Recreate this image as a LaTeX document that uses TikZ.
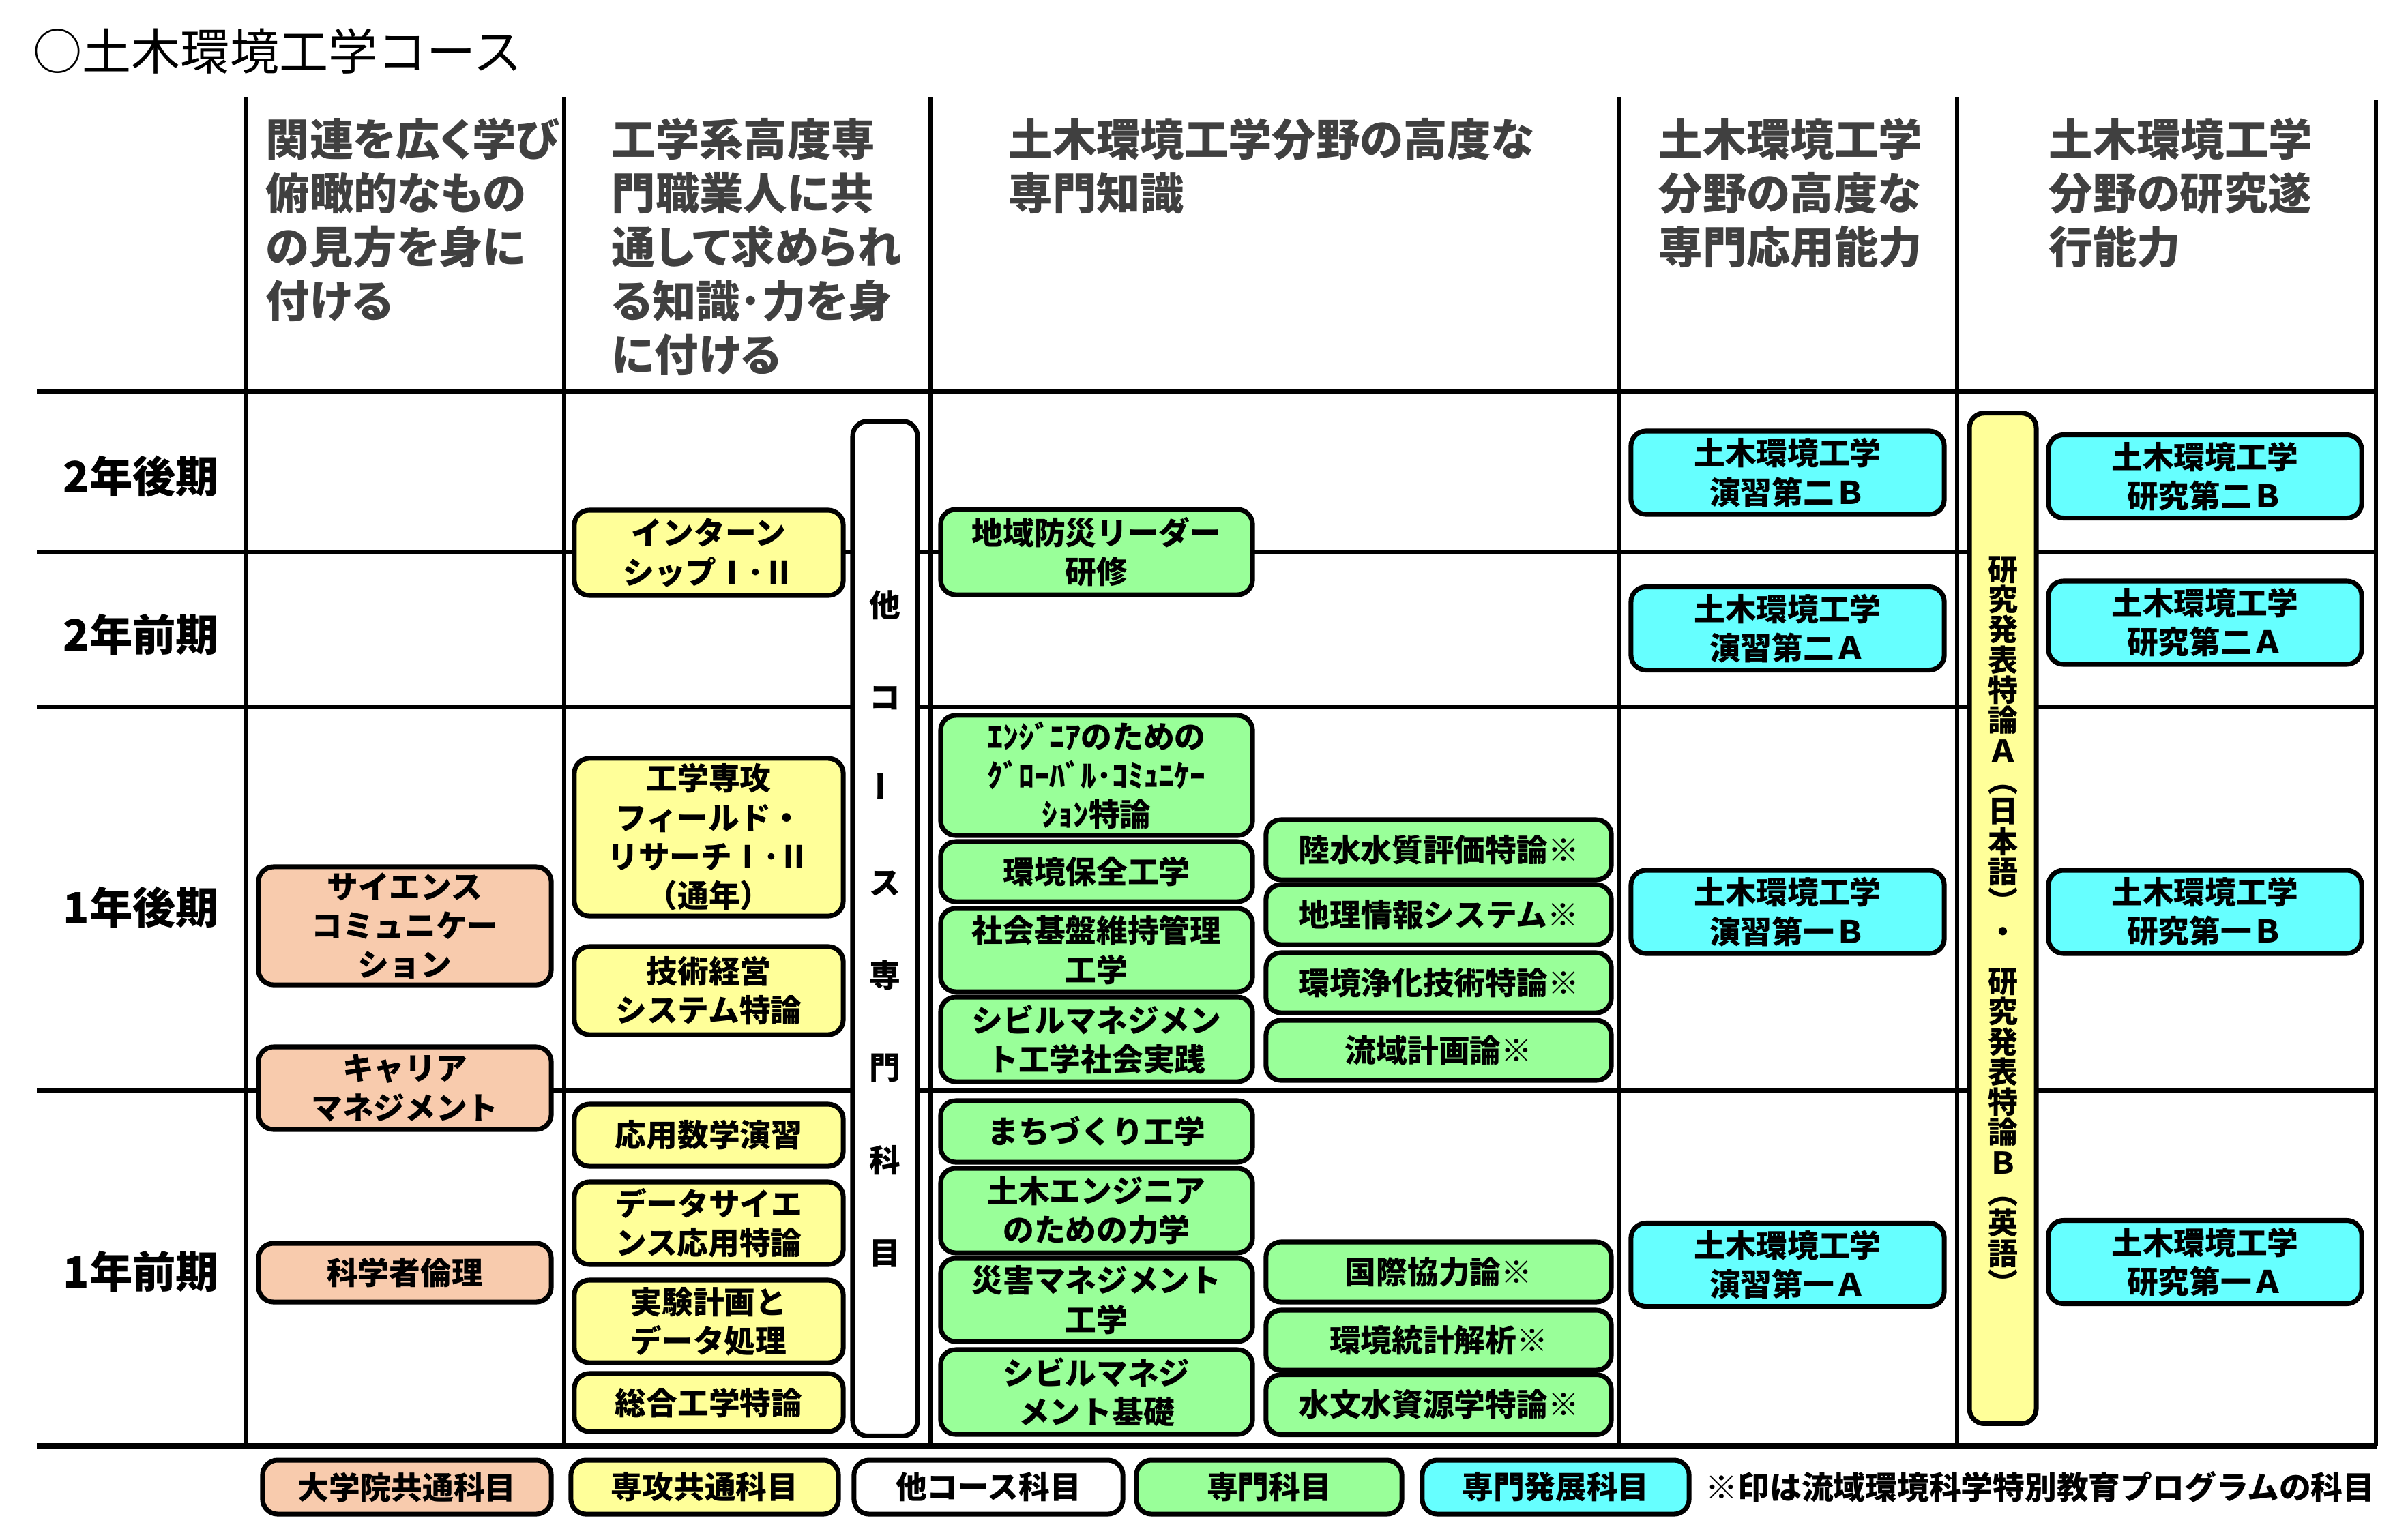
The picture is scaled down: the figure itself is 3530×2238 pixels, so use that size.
\documentclass[tikz,border=0pt]{standalone}
\usepackage{fontspec}
\usepackage{graphicx}
\setmainfont{Noto Sans CJK JP}
\definecolor{univfill}{HTML}{F8CBAD}
\definecolor{sharedfill}{HTML}{FFFF99}
\definecolor{specialfill}{HTML}{99FF99}
\definecolor{developfill}{HTML}{66FFFF}
\definecolor{headgray}{HTML}{404040}
\newcommand{\boxfont}{\fontsize{13pt}{16.3pt}\selectfont\bfseries}
\newcommand{\headfont}{\fontsize{18.3pt}{22.5pt}\selectfont\bfseries\addfontfeature{RawFeature=+palt}}
\newcommand{\termfont}{\fontsize{18pt}{22pt}\selectfont\bfseries}
\newcommand{\coursefont}{\fontsize{20.5pt}{24pt}\selectfont}
\newcommand{\stackfont}{\fontsize{12.5pt}{12.6pt}\selectfont\bfseries}
\newcommand{\tallfont}{\fontsize{13pt}{38.6pt}\selectfont\bfseries}
\tikzstyle{subject} = [rectangle, rounded corners=0.22cm, draw=black, line width=2pt, align=center, inner sep=0pt, font=\boxfont]
\tikzstyle{univ} = [subject, fill=univfill, minimum width=4.29cm]
\tikzstyle{shared} = [subject, fill=sharedfill, minimum width=3.94cm]
\tikzstyle{othercourse} = [subject, fill=white]
\tikzstyle{special} = [subject, fill=specialfill, minimum width=4.57cm]
\tikzstyle{specialr} = [subject, fill=specialfill, minimum width=5.06cm, minimum height=0.88cm]
\tikzstyle{develop} = [subject, fill=developfill, minimum width=4.59cm, minimum height=1.22cm]
\tikzstyle{aim} = [anchor=north west, align=left, inner sep=0pt, font=\headfont, text=headgray]
\tikzstyle{term} = [inner sep=0pt, font=\termfont]
\tikzstyle{grid} = [line width=1.85pt]
\tikzstyle{rowline} = [line width=2pt]
\tikzstyle{edge} = [line width=2.5pt]

\begin{document}
\begin{tikzpicture}[x=0.01cm, y=-0.01cm]
    \useasboundingbox (0,0) rectangle (3530,2238);

    \node (title) [anchor=west, inner sep=0pt, font=\coursefont] at (48,75) {○土木環境工学コース};

    \draw [grid] (361,142) -- (361,2120);
    \draw [grid] (827,142) -- (827,2120);
    \draw [grid] (1364,142) -- (1364,2120);
    \draw [grid] (2374,142) -- (2374,2120);
    \draw [grid] (2869,142) -- (2869,2120);
    \draw [grid] (3483,146) -- (3483,2120);
    \draw [edge] (54,574) -- (3485,574);
    \draw [rowline] (54,809) -- (3483,809);
    \draw [rowline] (54,1036) -- (3483,1036);
    \draw [rowline] (54,1599) -- (3483,1599);
    \draw [edge] (54,2120) -- (3485,2120);

    \node (aimA) [aim] at (389,172) {関連を広く学び\\俯瞰的なもの\\の見方を身に\\付ける};
    \node (aimB) [aim] at (896,172) {工学系高度専\\門職業人に共\\通して求められ\\る知識･力を身\\に付ける};
    \node (aimC) [aim] at (1478,172) {土木環境工学分野の高度な\\専門知識};
    \node (aimD) [aim] at (2431,172) {土木環境工学\\分野の高度な\\専門応用能力};
    \node (aimE) [aim] at (3003,172) {土木環境工学\\分野の研究遂\\行能力};

    \node (y2late) [term] at (207,698) {2年後期};
    \node (y2early) [term] at (207,930) {2年前期};
    \node (y1late) [term] at (207,1330) {1年後期};
    \node (y1early) [term] at (207,1864) {1年前期};

    \node (science) [univ, minimum height=1.73cm] at (593.5,1357.5) {サイエンス\\コミュニケー\\ション};
    \node (career) [univ, minimum height=1.21cm] at (593.5,1595.5) {キャリア\\マネジメント};
    \node (ethics) [univ, minimum height=0.86cm] at (593.5,1866) {科学者倫理};

    \node (intern) [shared, minimum height=1.25cm] at (1039,810.5) {インターン\\シップⅠ･Ⅱ};
    \node (fieldres) [shared, minimum height=2.31cm] at (1039,1227.5) {工学専攻\\フィールド・\\リサーチⅠ･Ⅱ\\（通年）};
    \node (mot) [shared, minimum height=1.29cm] at (1039,1452.5) {技術経営\\システム特論};
    \node (math) [shared, minimum height=0.91cm] at (1039,1664.5) {応用数学演習};
    \node (datasci) [shared, minimum height=1.21cm] at (1039,1793.5) {データサイエ\\ンス応用特論};
    \node (exper) [shared, minimum height=1.21cm] at (1039,1937.5) {実験計画と\\データ処理};
    \node (general) [shared, minimum height=0.85cm] at (1039,2056.5) {総合工学特論};

    \node (other) [othercourse, minimum width=0.95cm, minimum height=14.87cm, font=\tallfont] at (1297.5,1361.5) {他\\コ\\\rotatebox{90}{ー}\\ス\\専\\門\\科\\目};

    \node (bousai) [special, minimum height=1.25cm] at (1607.5,809.5) {地域防災リーダー\\研修};
    \node (global) [special, minimum height=1.76cm] at (1607.5,1137) {ｴﾝｼﾞﾆｱのための\\ｸﾞﾛｰﾊﾞﾙ･ｺﾐｭﾆｹｰ\\ｼｮﾝ特論};
    \node (envcons) [special, minimum height=0.88cm] at (1607.5,1278) {環境保全工学};
    \node (infra) [special, minimum height=1.22cm] at (1607.5,1393) {社会基盤維持管理\\工学};
    \node (civilprac) [special, minimum height=1.24cm] at (1607.5,1524) {シビルマネジメン\\ト工学社会実践};
    \node (town) [special, minimum height=0.90cm] at (1607.5,1659) {まちづくり工学};
    \node (mech) [special, minimum height=1.24cm] at (1607.5,1775) {土木エンジニア\\のための力学};
    \node (disaster) [special, minimum height=1.22cm] at (1607.5,1906) {災害マネジメント\\工学};
    \node (civilbase) [special, minimum height=1.24cm] at (1607.5,2041) {シビルマネジ\\メント基礎};

    \node (water) [specialr] at (2109,1246) {陸水水質評価特論※};
    \node (gis) [specialr] at (2109,1341) {地理情報システム※};
    \node (purify) [specialr] at (2109,1441) {環境浄化技術特論※};
    \node (basin) [specialr] at (2109,1540) {流域計画論※};
    \node (intl) [specialr] at (2109,1865) {国際協力論※};
    \node (stat) [specialr] at (2109,1965) {環境統計解析※};
    \node (hydro) [specialr] at (2109,2059.5) {水文水資源学特論※};

    \node (ex2b) [develop] at (2620.5,693) {土木環境工学\\演習第二Ｂ};
    \node (ex2a) [develop] at (2620.5,921.5) {土木環境工学\\演習第二Ａ};
    \node (ex1b) [develop] at (2620.5,1337) {土木環境工学\\演習第一Ｂ};
    \node (ex1a) [develop] at (2620.5,1854.5) {土木環境工学\\演習第一Ａ};

    \node (present) [shared, minimum width=0.98cm, minimum height=14.81cm] at (2936,1346.5) {};
    \node (presenttext) [align=center, inner sep=0pt, font=\stackfont] at (2936,1357) {研\\究\\発\\表\\特\\論\\Ａ\\︵\\日\\本\\語\\︶\\・\\[8pt]研\\究\\発\\表\\特\\論\\Ｂ\\︵\\英\\語\\︶};

    \node (rs2b) [develop] at (3232.5,698.5) {土木環境工学\\研究第二Ｂ};
    \node (rs2a) [develop] at (3232.5,913) {土木環境工学\\研究第二Ａ};
    \node (rs1b) [develop] at (3232.5,1337) {土木環境工学\\研究第一Ｂ};
    \node (rs1a) [develop] at (3232.5,1850.5) {土木環境工学\\研究第一Ａ};

    \node (lgUniv) [univ, minimum width=4.23cm, minimum height=0.79cm] at (596.5,2180.5) {大学院共通科目};
    \node (lgShared) [shared, minimum width=3.92cm, minimum height=0.79cm] at (1033,2180.5) {専攻共通科目};
    \node (lgOther) [othercourse, minimum width=3.94cm, minimum height=0.79cm] at (1449,2180.5) {他コース科目};
    \node (lgSpecial) [special, minimum width=3.89cm, minimum height=0.79cm] at (1860.5,2180.5) {専門科目};
    \node (lgDevelop) [develop, minimum width=3.91cm, minimum height=0.79cm] at (2280.5,2180.5) {専門発展科目};
    \node (note) [anchor=west, inner sep=0pt, font=\fontsize{13.3pt}{15pt}\selectfont\bfseries] at (2500,2180) {※印は流域環境科学特別教育プログラムの科目};
\end{tikzpicture}
\end{document}
